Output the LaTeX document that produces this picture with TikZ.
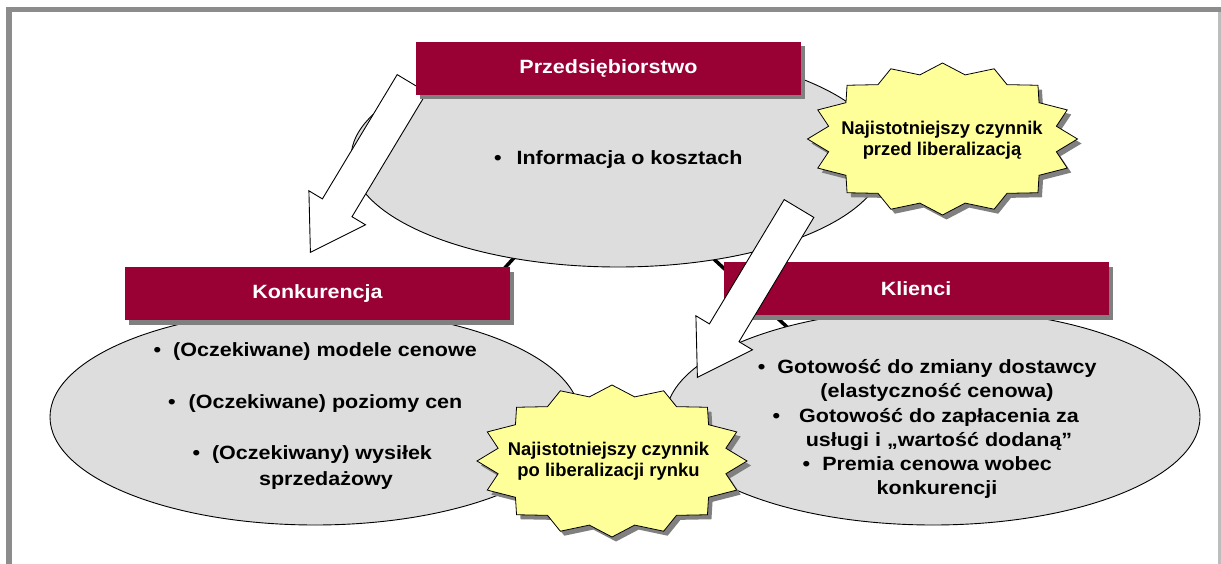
\documentclass[tikz,border=0pt]{standalone}
\usepackage{fontspec}
\setmainfont{Liberation Sans}
\newfontfamily\widefont{Liberation Sans}[FakeStretch=1.12]
\usetikzlibrary{shapes.geometric,shadows}
\definecolor{crimson}{HTML}{990033}
\definecolor{ellgray}{HTML}{DDDDDD}
\definecolor{starfill}{HTML}{FFFF99}
\definecolor{shadowgray}{HTML}{808080}
\definecolor{framegray}{HTML}{8C8C8C}
\definecolor{framelight}{HTML}{BDBDBD}
\newcommand{\burstpath}[2]{plot[samples at={0,1,...,31}, variable=\x]
  ({#1+ifthenelse(mod(\x,2)==0,1,0.86)*135*cos(\x*11.25)},
   {#2-ifthenelse(mod(\x,2)==0,1,0.86)*76*sin(\x*11.25)}) -- cycle}
\newcommand{\blockarrowpath}{(397.2,74.6) -- (426.8,92.4) -- (352,216.7) -- (365.5,224.8) -- (310.4,252.4) -- (308.9,190.8) -- (322.4,198.9) -- cycle}
\begin{document}
\begin{tikzpicture}[x=1pt,y=-1pt,
  ellnode/.style={ellipse, draw=black, line width=0.9pt, fill=ellgray, inner sep=0pt},
  titlebox/.style={rectangle, fill=crimson, text=white, inner sep=0pt,
     minimum width=385pt, minimum height=53pt,
     font=\widefont\bfseries\fontsize{19.2}{23}\selectfont,
     general shadow={fill=shadowgray, shadow xshift=4pt, shadow yshift=-4.5pt}},
  bodytext/.style={align=center, inner sep=0pt, text=black,
     font=\widefont\bfseries\fontsize{19.2}{24.5}\selectfont},
  startext/.style={align=center, inner sep=0pt, text=black,
     font=\bfseries\fontsize{18.4}{21}\selectfont},
  starsty/.style={fill=starfill, draw=black, line width=0.8pt, line join=miter},
  starshadow/.style={fill=shadowgray},
  blockarrow/.style={fill=white, draw=black, line width=0.9pt, line join=miter},
  conn/.style={draw=black, line width=3.5pt}]
\useasboundingbox (0,0) rectangle (1221,564);
% frame
\fill[framegray] (6,7) rectangle (1221,564);
\fill[framelight] (1218,12.5) rectangle (1221,564);
\fill[white] (11.5,12.5) rectangle (1218,564);
% hub coordinates for the connecting lines
\coordinate (hubP) at (605,158);
\coordinate (hubK) at (368,418);
\coordinate (hubC) at (885,418);
\draw[conn] (hubP) -- (hubK);
\draw[conn] (hubP) -- (hubC);
% top ellipse
\node[ellnode, minimum width=534pt, minimum height=218pt] (ellP) at (618,158) {};
% left block arrow
\draw[blockarrow] \blockarrowpath;
\node[titlebox] (boxP) at (608.5,68.5) {Przedsiębiorstwo};
% left ellipse
\node[ellnode, minimum width=530pt, minimum height=216pt] (ellK) at (315,417) {};
\node[titlebox] (boxK) at (317.5,293.5) {Konkurencja};
% right ellipse
\node[ellnode, minimum width=534pt, minimum height=216pt] (ellC) at (933,417) {};
\node[titlebox] (boxC) at (916,288.5) {Klienci};
% right block arrow
\begin{scope}[shift={(387,125)}]
\draw[blockarrow] \blockarrowpath;
\end{scope}
% stars
\fill[starshadow] \burstpath{946.5}{143.5};
\draw[starsty] \burstpath{942.5}{139};
\node[startext] (star1) at (942,140) {Najistotniejszy czynnik\\przed liberalizacją};
\fill[starshadow] \burstpath{616}{465.5};
\draw[starsty] \burstpath{612}{461};
\node[startext] (star2) at (608.5,461) {Najistotniejszy czynnik\\po liberalizacji rynku};
% texts
\node[bodytext] (p1) at (629.5,160) {\llap{•\hspace{15pt}}Informacja o kosztach};
\node[bodytext] (k1) at (325,352) {\llap{•\hspace{12pt}}(Oczekiwane) modele cenowe};
\node[bodytext] (k2) at (325.5,404) {\llap{•\hspace{13pt}}(Oczekiwane) poziomy cen};
\node[bodytext, font=\widefont\bfseries\fontsize{19.2}{26}\selectfont] (k3) at (322,468) {\llap{•\hspace{12pt}}(Oczekiwany) wysiłek\\\hspace*{8pt}sprzedażowy};
\node[bodytext] (c1) at (937,380.5) {\llap{•\hspace{12pt}}Gotowość do zmiany dostawcy\\(elastyczność cenowa)};
\node[bodytext] (c2) at (939,429.5) {\llap{•\hspace{19pt}}Gotowość do zapłacenia za\\usługi i „wartość dodaną”};
\node[bodytext] (c3) at (937,477.5) {\llap{•\hspace{12pt}}Premia cenowa wobec\\konkurencji};
\end{tikzpicture}
\end{document}
